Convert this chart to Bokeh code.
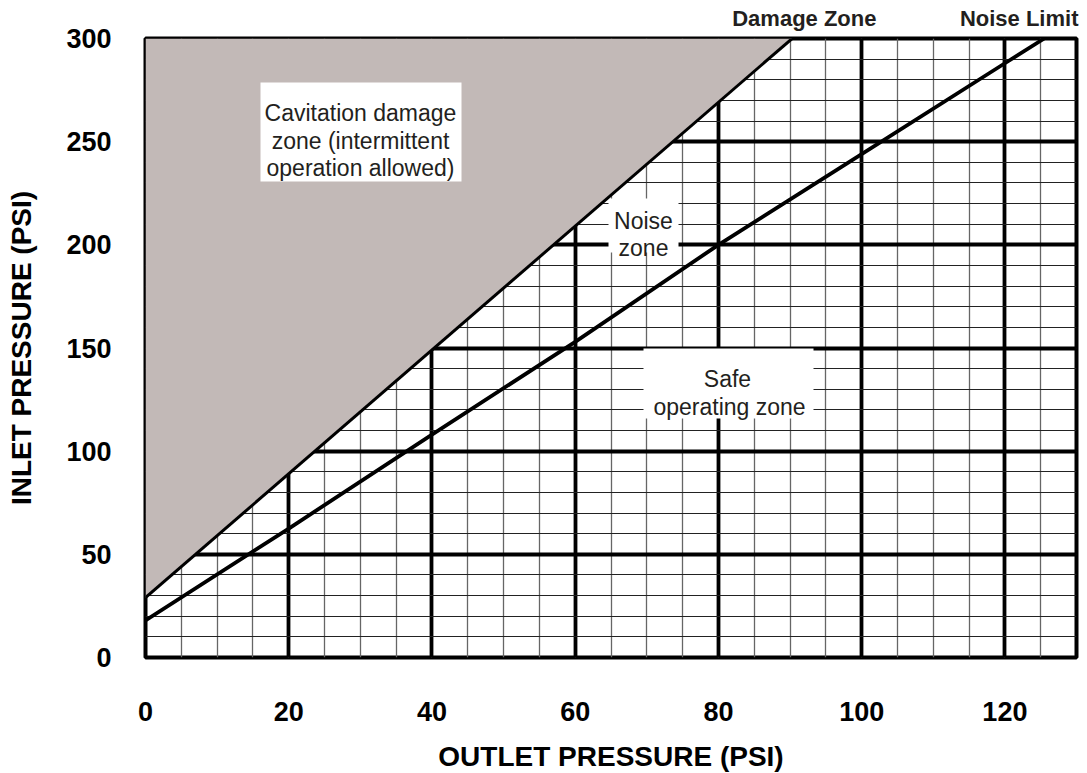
from bokeh.plotting import figure
from bokeh.models import FixedTicker, LinearAxis
from bokeh.core.properties import value
from bokeh.embed import file_html
from bokeh.resources import INLINE

# ---------------- data ----------------
outlet_ticks = [0, 20, 40, 60, 80, 100, 120]
inlet_ticks = [0, 50, 100, 150, 200, 250, 300]
outlet_minor = list(range(0, 131, 5))
inlet_minor = list(range(0, 301, 10))
x_min, x_max = 0, 130
y_min, y_max = 0, 300

# Noise limit curve (outlet psi, inlet psi)
noise_outlet = [0, 20, 40, 60, 80, 100, 120, 125.5]
noise_inlet = [18, 62.5, 108, 153, 200, 244, 288, 300]

# Damage zone boundary
damage_outlet = [0, 90.3]
damage_inlet = [29, 300]

# headings above the chart, placed at outlet-pressure positions
top_label_pos = [92, 122]
top_label_text = ["Damage Zone", "Noise Limit"]

FONT = "Liberation Sans"

# frame geometry in page pixels (for placing annotations)
FX0, FX1, FY0, FY1 = 145, 1076, 38, 657
def px2x(px):
    return (px - FX0) / (FX1 - FX0) * (x_max - x_min) + x_min
def px2y(py):
    return (FY1 - py) / (FY1 - FY0) * (y_max - y_min) + y_min

p = figure(frame_width=931, frame_height=619,
           x_range=(x_min, x_max), y_range=(y_min, y_max),
           output_backend="svg", toolbar_location=None,
           min_border_left=145, min_border_right=11,
           min_border_top=38, min_border_bottom=116,
           background_fill_color="white", border_fill_color="white")

# axes
p.xaxis.ticker = FixedTicker(ticks=outlet_ticks, minor_ticks=outlet_minor)
p.yaxis.ticker = FixedTicker(ticks=inlet_ticks, minor_ticks=inlet_minor)
for ax in (p.xaxis, p.yaxis):
    ax.axis_line_color = None
    ax.major_tick_line_color = None
    ax.minor_tick_line_color = None
    ax.major_tick_out = 0
    ax.major_tick_in = 0
    ax.minor_tick_out = 0
    ax.minor_tick_in = 0
    ax.major_label_text_font = FONT
    ax.major_label_text_font_style = "bold"
    ax.major_label_text_font_size = "27px"
    ax.major_label_text_color = "black"
    ax.axis_label_text_font = FONT
    ax.axis_label_text_font_style = "bold"
    ax.axis_label_text_font_size = "28px"
    ax.axis_label_text_color = "black"
p.xaxis.axis_label = "OUTLET PRESSURE (PSI)"
p.yaxis.axis_label = "INLET PRESSURE (PSI)"
p.xaxis.major_label_standoff = 44
p.yaxis.major_label_standoff = 34
p.xaxis.axis_label_standoff = 17
p.yaxis.axis_label_standoff = 26

# headings above the frame
top_axis = LinearAxis(ticker=FixedTicker(ticks=top_label_pos),
                      major_label_overrides={k: t for k, t in zip(top_label_pos, top_label_text)},
                      axis_line_color=None, major_tick_line_color=None,
                      minor_tick_line_color=None, major_tick_out=0, major_tick_in=0,
                      minor_tick_out=0, minor_tick_in=0,
                      major_label_standoff=8,
                      major_label_text_font=FONT, major_label_text_font_style="bold",
                      major_label_text_font_size="22px", major_label_text_color="#231f20")
p.add_layout(top_axis, "above")

# grids
p.xgrid.grid_line_color = "black"
p.xgrid.grid_line_width = 3.8
p.xgrid.grid_line_alpha = 1
p.xgrid.minor_grid_line_color = "#666666"
p.xgrid.minor_grid_line_width = 1.3
p.ygrid.grid_line_color = "black"
p.ygrid.grid_line_width = 3.8
p.ygrid.grid_line_alpha = 1
p.ygrid.minor_grid_line_color = "#222222"
p.ygrid.minor_grid_line_width = 1.1

# damage zone (gray)
p.patch(x=[damage_outlet[0], damage_outlet[-1], x_min],
        y=[damage_inlet[0], damage_inlet[-1], y_max],
        fill_color="#c2b9b7", line_color=None)

# white label boxes
boxes = [(260, 461, 82, 181), (608, 678, 198, 252), (643, 813, 348, 418)]
p.quad(left=[px2x(b[0]) for b in boxes], right=[px2x(b[1]) for b in boxes],
       top=[px2y(b[2]) for b in boxes], bottom=[px2y(b[3]) for b in boxes],
       fill_color="white", line_color=None)

# lines
p.line(damage_outlet, damage_inlet, line_color="black", line_width=3)
p.line(noise_outlet, noise_inlet, line_color="black", line_width=3.8)

# zone texts (center x px, baseline y px)
zone_lines = [
    ("Cavitation damage", 360, 112),
    ("zone (intermittent", 360, 140),
    ("operation allowed)", 360, 167),
    ("Noise", 643, 220),
    ("zone", 643, 247),
    ("Safe", 727, 378),
    ("operating zone", 729, 406),
]
p.text(x=[px2x(t[1]) for t in zone_lines], y=[px2y(t[2]) for t in zone_lines],
       text=[t[0] for t in zone_lines],
       text_font=value(FONT), text_font_size="23px", text_color="#231f20",
       text_align="center", text_baseline="alphabetic")

p.outline_line_color = "black"
p.outline_line_width = 4
p.outline_line_alpha = 1

open("out.html", "w").write(file_html(p, INLINE))
